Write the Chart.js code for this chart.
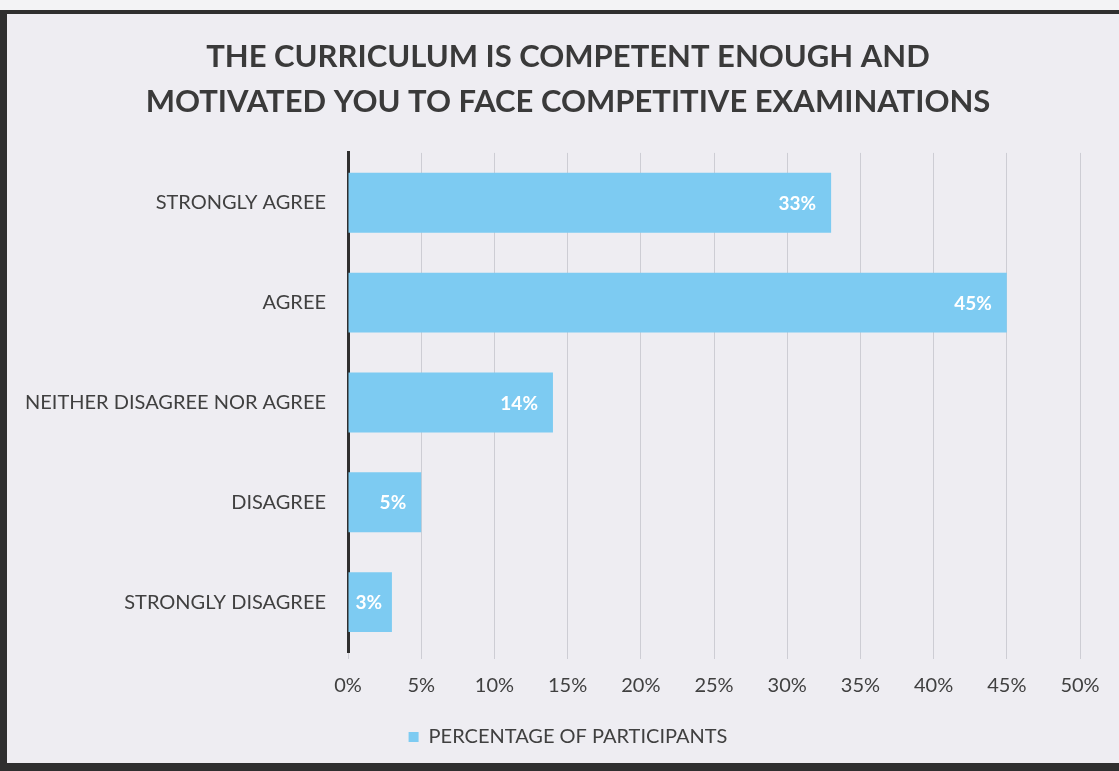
<!DOCTYPE html>
<html>
<head>
<meta charset="utf-8">
<script src="https://cdn.jsdelivr.net/npm/chart.js@4"></script>
<style>
  html, body { margin: 0; padding: 0; background: #f3f3f5; overflow: hidden; }
  .frame {
    position: absolute; left: 0; top: 10px; width: 1140px; height: 749px;
    background: #eeedf2;
    border-left: 7px solid #2f2f2f; border-top: 4px solid #2f2f2f; border-bottom: 8px solid #2f2f2f;
  }
  .wrap { position: absolute; left: 0; top: 0; width: 1136px; height: 771px; }
</style>
</head>
<body>
<div class="frame"></div>
<div class="wrap"><canvas id="chart"></canvas></div>
<script>
const categories = ["STRONGLY AGREE", "AGREE", "NEITHER DISAGREE NOR AGREE", "DISAGREE", "STRONGLY DISAGREE"];
const participants = [33, 45, 14, 5, 3];
const xTicks = [0, 5, 10, 15, 20, 25, 30, 35, 40, 45, 50];

const textColor = "#404040";
const fontFamily = "Lato, 'Open Sans', sans-serif";

// labels inside the bar end, white, clipped to the bar
const barLabels = {
  id: "barLabels",
  afterDatasetsDraw(chart) {
    const ctx = chart.ctx;
    const meta = chart.getDatasetMeta(0);
    ctx.save();
    ctx.font = `bold 19px ${fontFamily}`;
    ctx.fillStyle = "#ffffff";
    ctx.textAlign = "right";
    ctx.textBaseline = "middle";
    meta.data.forEach((bar, i) => {
      const text = `${participants[i]}%`;
      const w = ctx.measureText(text).width;
      const right = Math.max(bar.x - 15, bar.base + 7 + w);
      ctx.save();
      ctx.beginPath();
      ctx.rect(bar.base, bar.y - bar.height / 2, bar.x - bar.base, bar.height);
      ctx.clip();
      ctx.fillText(text, right, bar.y + 1);
      ctx.restore();
    });
    ctx.restore();
  }
};

new Chart(document.getElementById("chart"), {
  type: "bar",
  data: {
    labels: categories,
    datasets: [{
      label: "PERCENTAGE OF PARTICIPANTS",
      data: participants,
      backgroundColor: "#7dcbf2",
      barPercentage: 0.6,
      categoryPercentage: 1.0
    }]
  },
  options: {
    indexAxis: "y",
    responsive: true,
    maintainAspectRatio: false,
    animation: false,
    layout: { padding: { left: 0, right: 0, top: 0, bottom: 14 } },
    plugins: {
      title: {
        display: true,
        text: ["THE CURRICULUM IS COMPETENT ENOUGH AND", "MOTIVATED YOU TO FACE COMPETITIVE EXAMINATIONS"],
        color: "#3a3a3a",
        font: { family: fontFamily, size: 31, weight: "bold", lineHeight: 1.45 },
        padding: { top: 35, bottom: 28 }
      },
      legend: {
        position: "bottom",
        labels: {
          color: textColor,
          font: { family: fontFamily, size: 20 },
          boxWidth: 10,
          boxHeight: 10,
          padding: 10
        }
      },
      tooltip: { enabled: false }
    },
    scales: {
      x: {
        min: 0,
        max: 50,
        afterBuildTicks: (scale) => { scale.ticks = xTicks.map((v) => ({ value: v })); },
        afterFit: (scale) => {
          scale.height = 65;
          scale.paddingRight = 56; // room for the rest of the original frame
        },
        ticks: {
          color: textColor,
          font: { family: fontFamily, size: 20 },
          padding: 15,
          callback: (v) => `${v}%`
        },
        grid: { color: "#cdcdd4", tickLength: 7, drawTicks: true },
        border: { display: false }
      },
      y: {
        afterFit: (scale) => { scale.width = 348; },
        ticks: {
          color: textColor,
          font: { family: fontFamily, size: 20 },
          padding: 22
        },
        grid: { display: false, drawTicks: false },
        border: { display: true, color: "#2f2f2f", width: 3 }
      }
    }
  },
  plugins: [barLabels]
});
</script>
</body>
</html>
